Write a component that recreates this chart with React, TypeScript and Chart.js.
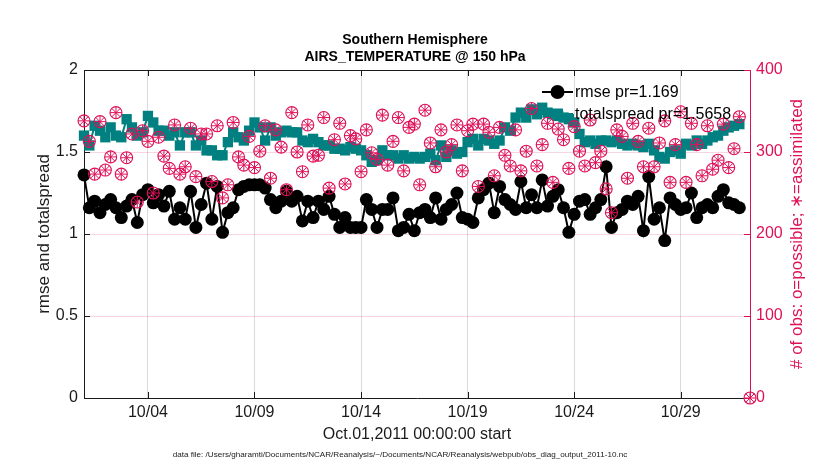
import React, { useEffect, useRef } from 'react';
import { Chart, registerables } from 'chart.js';

Chart.register(...registerables);

// ---------- data ----------
const STEP_DAYS = 0.25; // 6-hourly bins starting Oct.01 00:00
const X_MAX_DAYS = 31.25;

const titleLines = ['Southern Hemisphere', 'AIRS_TEMPERATURE @ 150 hPa'];
const xTitle = 'Oct.01,2011 00:00:00 start';
const leftTitle = 'rmse and totalspread';
const rightTitle = '# of obs: o=possible; \u2217=assimilated';
const footnote =
  'data file: /Users/gharamti/Documents/NCAR/Reanalysis/~/Documents/NCAR/Reanalysis/webpub/obs_diag_output_2011-10.nc';
const legendLabels = ['rmse pr=1.169', 'totalspread pr=1.5658'];

const xTickDays = [3, 8, 13, 18, 23, 28];
const xTickLabels = ['10/04', '10/09', '10/14', '10/19', '10/24', '10/29'];
const leftTicks = [0, 0.5, 1, 1.5, 2];
const leftTickLabels = ['0', '0.5', '1', '1.5', '2'];
const rightTicks = [0, 100, 200, 300, 400];

const rmse = [
  1.36, 1.16, 1.2, 1.13, 1.18, 1.21, 1.16, 1.1, 1.17, 1.21,
  1.07, 1.24, 1.27, 1.19, 1.24, 1.17, 1.26, 1.09, 1.16, 1.09,
  1.26, 1.04, 1.18, 1.31, 1.09, 1.29, 1.01, 1.13, 1.16, 1.27,
  1.29, 1.3, 1.3, 1.3, 1.28, 1.21, 1.16, 1.2, 1.26, 1.2,
  1.23, 1.08, 1.2, 1.1, 1.2, 1.15, 1.23, 1.12, 1.04, 1.1,
  1.04, 1.04, 1.04, 1.21, 1.15, 1.04, 1.15, 1.15, 1.22, 1.02,
  1.04, 1.12, 1.02, 1.13, 1.15, 1.1, 1.22, 1.09, 1.15, 1.18,
  1.25, 1.1, 1.09, 1.07, 1.22, 1.27, 1.31, 1.13, 1.29, 1.21,
  1.18, 1.15, 1.32, 1.16, 1.24, 1.16, 1.33, 1.17, 1.23, 1.27,
  1.16, 1.01, 1.12, 1.2, 1.21, 1.12, 1.16, 1.21, 1.41, 1.04,
  1.13, 1.15, 1.2, 1.18, 1.23, 1.02, 1.35, 1.09, 1.16, 0.96,
  1.22, 1.18, 1.15, 1.16, 1.25, 1.1, 1.16, 1.18, 1.16, 1.23,
  1.27, 1.19, 1.18, 1.16,
];

const totalspread = [
  1.6, 1.54, 1.66, 1.63, 1.59, 1.65, 1.6, 1.59, 1.7, 1.65,
  1.6, 1.62, 1.72, 1.68, 1.63, 1.63, 1.6, 1.62, 1.54, 1.62,
  1.62, 1.54, 1.57, 1.51, 1.51, 1.48, 1.48, 1.56, 1.62, 1.59,
  1.57, 1.63, 1.68, 1.65, 1.57, 1.65, 1.6, 1.62, 1.63, 1.62,
  1.62, 1.57, 1.56, 1.58, 1.56, 1.54, 1.54, 1.52, 1.52, 1.51,
  1.53, 1.52, 1.51, 1.48, 1.44, 1.45, 1.51, 1.48, 1.48, 1.46,
  1.48, 1.46, 1.47, 1.46, 1.47, 1.49, 1.45, 1.54, 1.47, 1.51,
  1.49, 1.5, 1.56, 1.58, 1.54, 1.58, 1.57, 1.55, 1.57, 1.65,
  1.63, 1.71, 1.74, 1.71, 1.76, 1.73, 1.77, 1.74, 1.73, 1.72,
  1.71, 1.7, 1.68, 1.61, 1.56, 1.57, 1.55, 1.57, 1.57, 1.56,
  1.57, 1.55, 1.54, 1.55, 1.54, 1.53, 1.55, 1.51, 1.47, 1.46,
  1.5, 1.51, 1.49, 1.55, 1.54, 1.57, 1.55, 1.57, 1.59, 1.6,
  1.63, 1.65, 1.66, 1.67,
];

const obsPossible = [
  338, 313, 273, 337, 278, 294, 348, 273, 293, 322,
  239, 326, 313, 250, 318, 295, 280, 333, 273, 282,
  329, 270, 322, 322, 264, 332, 244, 260, 336, 294,
  284, 319, 281, 301, 332, 268, 327, 306, 254, 348,
  300, 276, 333, 295, 296, 342, 256, 315, 335, 261,
  320, 316, 276, 327, 299, 291, 345, 284, 313, 342,
  277, 330, 334, 260, 351, 311, 282, 327, 300, 309,
  333, 277, 326, 334, 258, 334, 324, 271, 330, 296,
  283, 327, 277, 301, 353, 283, 309, 335, 263, 328,
  315, 280, 331, 301, 283, 339, 287, 301, 255, 226,
  327, 319, 268, 335, 313, 282, 329, 282, 311, 338,
  263, 309, 349, 263, 335, 309, 271, 332, 279, 290,
  334, 281, 304, 343, null, 0,
];

const obsAssimilated = [
  338, 313, 273, 337, 278, 294, 348, 273, 293, 322,
  239, 326, 313, 250, 318, 295, 280, 333, 273, 282,
  329, 270, 322, 322, 264, 332, 244, 260, 336, 294,
  284, 319, 281, 301, 332, 268, 327, 306, 254, 348,
  300, 276, 333, 295, 296, 342, 256, 315, 335, 261,
  320, 316, 276, 327, 299, 291, 345, 284, 313, 342,
  277, 330, 334, 260, 351, 311, 282, 327, 300, 309,
  333, 277, 326, 334, 258, 334, 324, 271, 330, 296,
  283, 327, 277, 301, 353, 283, 309, 335, 263, 328,
  315, 280, 331, 301, 283, 339, 287, 301, 255, 226,
  327, 319, 268, 335, 313, 282, 329, 282, 311, 338,
  263, 309, 349, 263, 335, 309, 271, 332, 279, 290,
  334, 281, 304, 343, null, 0,
];

// ---------- styles ----------
const FONT = '"Liberation Sans", Arial, Helvetica, sans-serif';
const PINK = 'rgb(222,17,88)';
const TEAL = 'rgb(0,128,128)';
const DARK = '#1a1a1a';

const toPoints = (arr: (number | null)[]) =>
  arr.map((v, i) => ({ x: i * STEP_DAYS, y: v }));

const framePlugin = {
  id: 'frame',
  beforeDatasetsDraw(chart: any) {
    const { ctx, chartArea, scales } = chart;
    const { left, right, top, bottom } = chartArea;
    const seg = (x1: number, y1: number, x2: number, y2: number) => {
      ctx.beginPath();
      ctx.moveTo(x1, y1);
      ctx.lineTo(x2, y2);
      ctx.stroke();
    };
    ctx.save();
    ctx.lineWidth = 1;
    ctx.strokeStyle = DARK;
    seg(left, top + 0.5, right, top + 0.5);
    scales.x.ticks.forEach((t: any) => {
      const px = Math.round(scales.x.getPixelForValue(t.value)) + 0.5;
      seg(px, bottom, px, bottom - 6);
      seg(px, top, px, top + 6);
    });
    scales.y.ticks.forEach((t: any) => {
      const py = Math.round(scales.y.getPixelForValue(t.value)) + 0.5;
      seg(left, py, left + 6, py);
    });
    ctx.strokeStyle = PINK;
    scales.y2.ticks.forEach((t: any) => {
      const py = Math.round(scales.y2.getPixelForValue(t.value)) + 0.5;
      seg(right, py, right - 6, py);
    });
    ctx.restore();
  },
};

const overlayPlugin = {
  id: 'overlay',
  afterDraw(chart: any) {
    const { ctx, chartArea } = chart;
    ctx.save();
    // legend
    const lx = chartArea.right - 208;
    const rows = [chartArea.top + 22, chartArea.top + 44];
    ctx.font = `16px ${FONT}`;
    ctx.textBaseline = 'middle';
    ctx.textAlign = 'left';
    // rmse
    ctx.strokeStyle = '#000';
    ctx.lineWidth = 2;
    ctx.beginPath();
    ctx.moveTo(lx, rows[0]);
    ctx.lineTo(lx + 31, rows[0]);
    ctx.stroke();
    ctx.fillStyle = '#000';
    ctx.beginPath();
    ctx.arc(lx + 15.5, rows[0], 7, 0, Math.PI * 2);
    ctx.fill();
    // spread
    ctx.strokeStyle = TEAL;
    ctx.beginPath();
    ctx.moveTo(lx, rows[1]);
    ctx.lineTo(lx + 31, rows[1]);
    ctx.stroke();
    ctx.fillStyle = TEAL;
    ctx.fillRect(lx + 15.5 - 5.5, rows[1] - 5.5, 11, 11);
    ctx.fillStyle = '#000';
    ctx.fillText(legendLabels[0], lx + 33, rows[0] + 1);
    ctx.fillText(legendLabels[1], lx + 33, rows[1] + 1);

    // right axis title
    ctx.save();
    ctx.translate(797, (chartArea.top + chartArea.bottom) / 2);
    ctx.rotate(-Math.PI / 2);
    ctx.fillStyle = PINK;
    ctx.font = `17px ${FONT}`;
    ctx.textAlign = 'center';
    ctx.textBaseline = 'middle';
    ctx.fillText(rightTitle, 0, 0);
    ctx.restore();

    // footnote
    ctx.fillStyle = DARK;
    ctx.font = `8.1px ${FONT}`;
    ctx.textAlign = 'center';
    ctx.textBaseline = 'middle';
    ctx.fillText(footnote, 400, 455);
    ctx.restore();
  },
};

export default function App() {
  const canvasRef = useRef<HTMLCanvasElement | null>(null);

  useEffect(() => {
    document.body.style.margin = '0';
    const canvas = canvasRef.current;
    if (!canvas) return;
    const chart = new Chart(canvas, {
      type: 'line',
      data: {
        datasets: [
          {
            label: 'obs assimilated',
            data: toPoints(obsAssimilated),
            yAxisID: 'y2',
            showLine: false,
            pointStyle: 'star',
            pointRadius: 6,
            pointBorderWidth: 1,
            pointBorderColor: PINK,
            pointBackgroundColor: PINK,
            borderColor: PINK,
            clip: false,
            order: 0,
          },
          {
            label: 'obs possible',
            data: toPoints(obsPossible),
            yAxisID: 'y2',
            showLine: false,
            pointStyle: 'circle',
            pointRadius: 6,
            pointBorderWidth: 1.1,
            pointBorderColor: PINK,
            pointBackgroundColor: 'rgba(0,0,0,0)',
            borderColor: PINK,
            clip: false,
            order: 1,
          },
          {
            label: legendLabels[0],
            data: toPoints(rmse),
            yAxisID: 'y',
            borderColor: '#000',
            borderWidth: 2,
            pointStyle: 'circle',
            pointRadius: 6.5,
            pointBorderWidth: 0,
            pointBackgroundColor: '#000',
            pointBorderColor: '#000',
            tension: 0,
            clip: false,
            order: 2,
          },
          {
            label: legendLabels[1],
            data: toPoints(totalspread),
            yAxisID: 'y',
            borderColor: TEAL,
            borderWidth: 2,
            pointStyle: 'rect',
            pointRadius: 7.3,
            pointBorderWidth: 0,
            pointBackgroundColor: TEAL,
            pointBorderColor: TEAL,
            tension: 0,
            clip: false,
            order: 3,
          },
        ],
      },
      options: {
        responsive: false,
        animation: false,
        devicePixelRatio: 1,
        layout: { padding: 0 },
        font: { family: FONT },
        plugins: {
          legend: { display: false },
          tooltip: { enabled: false },
          title: {
            display: true,
            text: titleLines,
            color: '#000',
            font: { family: FONT, size: 14, weight: 'bold', lineHeight: 1.2 },
            padding: { top: 31.6, bottom: 4.8 },
          },
        },
        scales: {
          x: {
            type: 'linear',
            min: 0,
            max: X_MAX_DAYS,
            afterBuildTicks: (s: any) => {
              s.ticks = xTickDays.map((v) => ({ value: v }));
            },
            afterFit: (s: any) => {
              s.height = 72;
            },
            ticks: {
              autoSkip: false,
              maxRotation: 0,
              padding: 5,
              color: DARK,
              font: { family: FONT, size: 16 },
              callback: (v: any) => {
                const k = xTickDays.indexOf(Number(v));
                return k >= 0 ? xTickLabels[k] : '';
              },
            },
            grid: {
              color: 'rgba(0,0,0,0.14)',
              drawTicks: false,
            },
            border: { color: DARK, width: 1 },
            title: {
              display: true,
              text: xTitle,
              color: DARK,
              font: { family: FONT, size: 16, lineHeight: 1.2 },
              padding: { top: 0, bottom: 25.4 },
            },
          },
          y: {
            type: 'linear',
            position: 'left',
            min: 0,
            max: 2,
            afterBuildTicks: (s: any) => {
              s.ticks = leftTicks.map((v) => ({ value: v }));
            },
            afterFit: (s: any) => {
              s.width = 84;
            },
            ticks: {
              padding: 6,
              color: DARK,
              font: { family: FONT, size: 16 },
              callback: (v: any) => {
                const k = leftTicks.indexOf(Number(v));
                return k >= 0 ? leftTickLabels[k] : '';
              },
            },
            grid: { display: false, drawTicks: false },
            border: { color: DARK, width: 1 },
            title: {
              display: true,
              text: leftTitle,
              color: DARK,
              font: { family: FONT, size: 17, lineHeight: 1.2 },
              padding: { top: 33.8, bottom: 0 },
            },
          },
          y2: {
            type: 'linear',
            position: 'right',
            min: 0,
            max: 400,
            afterBuildTicks: (s: any) => {
              s.ticks = rightTicks.map((v) => ({ value: v }));
            },
            afterFit: (s: any) => {
              s.width = 80;
            },
            ticks: {
              padding: 6,
              color: PINK,
              font: { family: FONT, size: 16 },
              callback: (v: any) => String(v),
            },
            grid: {
              color: 'rgba(222,17,88,0.18)',
              drawTicks: false,
            },
            border: { color: PINK, width: 1 },
          },
        },
      },
      plugins: [framePlugin, overlayPlugin],
    } as any);
    return () => chart.destroy();
  }, []);

  return (
    <div style={{ position: 'absolute', left: 0, top: 0, width: 830, height: 470, background: '#fff' }}>
      <canvas ref={canvasRef} width={830} height={470} style={{ display: 'block' }} />
    </div>
  );
}
